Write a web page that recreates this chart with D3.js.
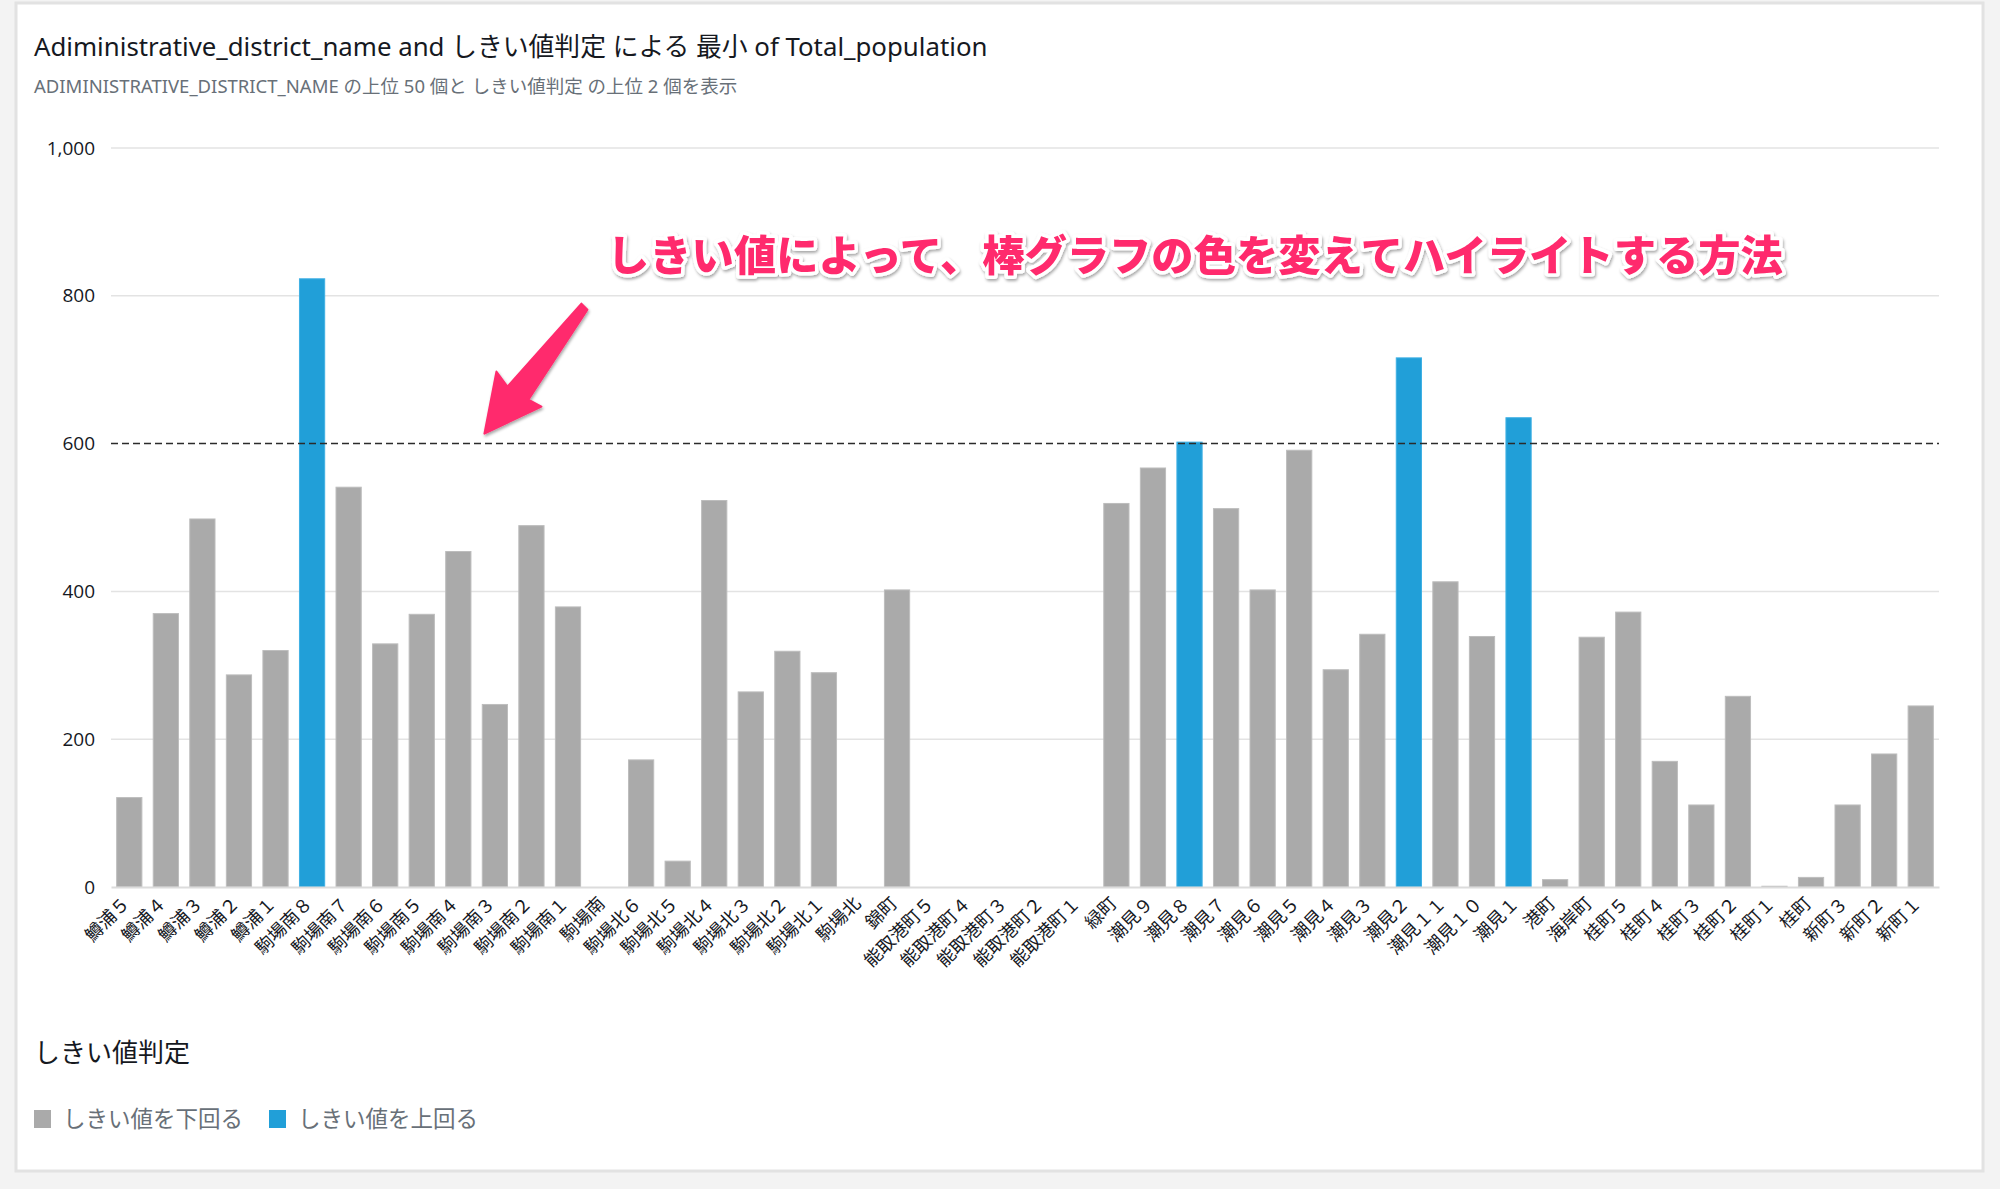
<!DOCTYPE html>
<html>
<head>
<meta charset="utf-8">
<script src="https://cdn.jsdelivr.net/npm/d3@7"></script>
<style>
  html, body { margin: 0; padding: 0; background: #f3f3f3; }
  svg { display: block; }
</style>
</head>
<body>
<svg id="chart" width="2000" height="1189"></svg>
<script>
const categories = [
  "鱒浦５","鱒浦４","鱒浦３","鱒浦２","鱒浦１",
  "駒場南８","駒場南７","駒場南６","駒場南５","駒場南４","駒場南３","駒場南２","駒場南１","駒場南",
  "駒場北６","駒場北５","駒場北４","駒場北３","駒場北２","駒場北１","駒場北",
  "錦町","能取港町５","能取港町４","能取港町３","能取港町２","能取港町１",
  "緑町","潮見９","潮見８","潮見７","潮見６","潮見５","潮見４","潮見３","潮見２","潮見１１","潮見１０","潮見１",
  "港町","海岸町","桂町５","桂町４","桂町３","桂町２","桂町１","桂町","新町３","新町２","新町１"
];
const values = [
  121, 370, 498, 287, 320,
  823, 541, 329, 369, 454, 247, 489, 379, 0,
  172, 35, 523, 264, 319, 290, 0,
  402, 0, 0, 0, 0, 0,
  519, 567, 602, 512, 402, 591, 294, 342, 716, 413, 339, 635,
  10, 338, 372, 170, 111, 258, 1, 13, 111, 180, 245
];
const yTicks = [0, 200, 400, 600, 800, 1000];
const threshold = 600;
const legendLabels = ["しきい値を下回る", "しきい値を上回る"];
const legendColors = ["#aaaaaa", "#219fd8"];
const titleText = "Adiministrative_district_name and しきい値判定 による 最小 of Total_population";
const subtitleText = "ADIMINISTRATIVE_DISTRICT_NAME の上位 50 個と しきい値判定 の上位 2 個を表示";
const legendTitle = "しきい値判定";
const annotationText = "しきい値によって、棒グラフの色を変えてハイライトする方法";

const data = categories.map((c, i) => ({ name: c, value: values[i], above: values[i] >= threshold }));

const svg = d3.select("#chart");
const FONT = "'Noto Sans', 'Noto Sans CJK JP', sans-serif";
const CJK = "'Noto Sans CJK JP', 'Noto Sans', sans-serif";

const defs = svg.append("defs");
const shadow = defs.append("filter").attr("id", "shadow").attr("x", "-10%").attr("y", "-30%").attr("width", "120%").attr("height", "160%");
shadow.append("feDropShadow").attr("dx", 1).attr("dy", 2).attr("stdDeviation", 1.5).attr("flood-color", "#000").attr("flood-opacity", 0.35);

// card
svg.append("rect").attr("x", 16).attr("y", 3).attr("width", 1967).attr("height", 1168)
  .attr("fill", "#fff").attr("stroke", "#e2e2e2").attr("stroke-width", 3);

// title
svg.append("text").attr("x", 34).attr("y", 56).attr("font-family", FONT).attr("font-size", 25.8)
  .attr("fill", "#16191f").text(titleText);
svg.append("text").attr("x", 34).attr("y", 93).attr("font-family", FONT).attr("font-size", 18.5)
  .attr("fill", "#687078").text(subtitleText);

const margin = { left: 111, right: 1939, top: 148, bottom: 887 };
const x = d3.scaleBand().domain(categories).range([margin.left, margin.right]).paddingInner(0.31).paddingOuter(0.155);
const y = d3.scaleLinear().domain([0, 1000]).range([margin.bottom, margin.top]);

// gridlines
svg.append("g").selectAll("line").data(yTicks.filter(t => t !== threshold && t !== 0)).join("line")
  .attr("x1", margin.left).attr("x2", margin.right)
  .attr("y1", d => y(d)).attr("y2", d => y(d))
  .attr("stroke", "#e3e3e3").attr("stroke-width", 1.5);

// y axis
const yAxis = svg.append("g").attr("transform", `translate(${margin.left},0)`)
  .call(d3.axisLeft(y).tickValues(yTicks).tickSize(0).tickPadding(16).tickFormat(d3.format(",")));
yAxis.select(".domain").remove();
yAxis.selectAll("text").attr("font-family", "'Open Sans', 'Noto Sans', sans-serif").attr("font-size", 19).attr("fill", "#16191f");

// bars
svg.append("g").selectAll("rect").data(data.filter(d => d.value > 0)).join("rect")
  .attr("x", d => x(d.name)).attr("width", x.bandwidth())
  .attr("y", d => y(d.value)).attr("height", d => y(0) - y(d.value))
  .attr("fill", d => d.above ? legendColors[1] : legendColors[0])
  .attr("stroke", d => d.above ? "#3fb0e4" : "#bdbdbd").attr("stroke-width", 1);

// x axis
const xAxis = svg.append("g").attr("transform", `translate(0,${margin.bottom})`)
  .call(d3.axisBottom(x).tickSize(0).tickPadding(0));
xAxis.select(".domain").attr("stroke", "#dcdcdc").attr("stroke-width", 2);
xAxis.selectAll("text")
  .attr("font-family", CJK).attr("font-size", 18).attr("fill", "#16191f")
  .attr("text-anchor", "end").attr("y", 0).attr("dy", "0.35em")
  .attr("transform", "translate(-3,13) rotate(-45)");

// threshold line
svg.append("line").attr("x1", margin.left).attr("x2", margin.right)
  .attr("y1", y(threshold)).attr("y2", y(threshold))
  .attr("stroke", "#2b2b2b").attr("stroke-width", 1.5).attr("stroke-dasharray", "7,4");

// legend
svg.append("text").attr("x", 34).attr("y", 1062).attr("font-family", CJK).attr("font-size", 26)
  .attr("fill", "#16191f").text(legendTitle);
const lg = svg.append("g").selectAll("g").data(legendLabels).join("g")
  .attr("transform", (d, i) => `translate(${i === 0 ? 34 : 269},1110)`);
lg.append("rect").attr("width", 17).attr("height", 18).attr("fill", (d, i) => legendColors[i]);
lg.append("text").attr("x", 29).attr("y", 17).attr("font-family", CJK).attr("font-size", 22.5)
  .attr("fill", "#687078").text(d => d);

// annotation
svg.append("text").attr("x", 607).attr("y", 271)
  .attr("font-family", CJK).attr("font-weight", 900).attr("font-size", 42.3)
  .attr("fill", "#ff2b6d").attr("stroke", "#fff").attr("stroke-width", 7).attr("paint-order", "stroke")
  .attr("stroke-linejoin", "round").attr("filter", "url(#shadow)").text(annotationText);

// arrow pointing at the threshold line
const tipX = x("駒場南３") + x.bandwidth() * 0.6 - 13, tipY = y(threshold) - 10;
const arrowPts = [[0,0],[12,-62],[23,-47],[97,-130],[103,-124],[44,-34],[57,-27]];
svg.append("path")
  .attr("d", d3.line()(arrowPts.map(p => [tipX + p[0], tipY + p[1]])) + "Z")
  .attr("fill", "#ff2b6d").attr("stroke", "#ff2b6d").attr("stroke-width", 2).attr("stroke-linejoin", "round")
  .attr("filter", "url(#shadow)");
</script>
</body>
</html>
